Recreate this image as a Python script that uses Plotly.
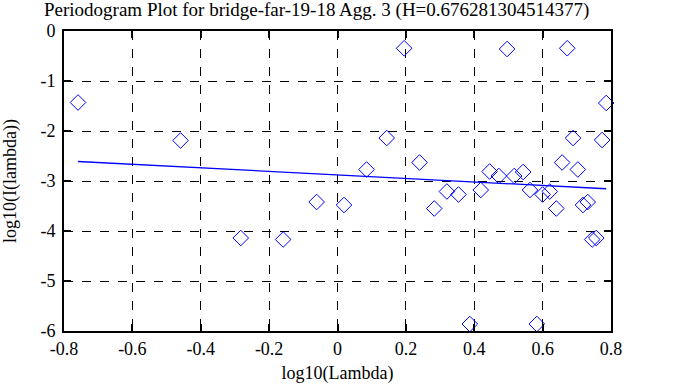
import plotly.graph_objects as go

# Periodogram points (log10 lambda, log10 I(lambda))
log_lambda = [-0.759, -0.459, -0.283, -0.159, -0.061, 0.019, 0.085, 0.144, 0.195, 0.240,
              0.283, 0.320, 0.354, 0.387, 0.419, 0.445, 0.472, 0.496, 0.517, 0.543,
              0.563, 0.583, 0.600, 0.621, 0.640, 0.657, 0.672, 0.689, 0.703, 0.718,
              0.732, 0.745, 0.757, 0.774, 0.786]
log_I = [-1.43, -2.19, -4.14, -4.17, -3.42, -3.48, -2.77, -2.14, -0.345, -2.63,
         -3.55, -3.21, -3.27, -5.86, -3.18, -2.81, -2.90, -0.36, -2.90, -2.82,
         -3.18, -5.86, -3.27, -3.21, -3.55, -2.63, -0.345, -2.14, -2.77, -3.48,
         -3.42, -4.17, -4.14, -2.18, -1.44]

# Fitted regression line endpoints
fit_x = [-0.759, 0.786]
fit_y = [-2.61, -3.155]

x_ticks = [-0.8, -0.6, -0.4, -0.2, 0, 0.2, 0.4, 0.6, 0.8]
x_tick_labels = ["-0.8", "-0.6", "-0.4", "-0.2", "0", "0.2", "0.4", "0.6", "0.8"]
y_ticks = [0, -1, -2, -3, -4, -5, -6]
y_tick_labels = ["0", "-1", "-2", "-3", "-4", "-5", "-6"]

title_text = "Periodogram Plot for bridge-far-19-18 Agg. 3 (H=0.676281304514377)"

font_family = "Liberation Serif, Times New Roman, serif"

fig = go.Figure()
fig.add_trace(go.Scatter(
    x=log_lambda, y=log_I, mode="markers",
    marker=dict(symbol="diamond-open", size=12, color="#0000ff", line=dict(width=1, color="#0000ff")),
    showlegend=False, cliponaxis=False,
))
fig.add_trace(go.Scatter(
    x=fit_x, y=fit_y, mode="lines",
    line=dict(color="#0000ff", width=1.3),
    showlegend=False,
))

axis_common = dict(
    showline=True, linecolor="black", linewidth=2, mirror="allticks",
    ticks="inside", ticklen=7, tickwidth=2, tickcolor="black",
    showgrid=True, gridcolor="black", gridwidth=1, griddash="dash",
    zeroline=False, automargin=False,
    tickfont=dict(family=font_family, size=18, color="black"),
)

fig.update_layout(
    width=674, height=387,
    margin=dict(l=64, r=63, t=31, b=56),
    paper_bgcolor="white", plot_bgcolor="white",
    font=dict(family=font_family, color="black"),
    xaxis=dict(range=[-0.8, 0.8], tickvals=x_ticks, ticktext=x_tick_labels,
               title=dict(text="log10(Lambda)", font=dict(family=font_family, size=18), standoff=9),
               **axis_common),
    yaxis=dict(range=[-6, 0], tickvals=y_ticks, ticktext=y_tick_labels,
               ticklabelstandoff=3,
               title=dict(text="log10(I(lambda))", font=dict(family=font_family, size=18), standoff=20),
               **axis_common),
    annotations=[dict(
        text=title_text, xref="paper", yref="paper", x=311/674, y=1,
        xanchor="center", yanchor="bottom", yshift=8, showarrow=False,
        font=dict(family=font_family, size=19, color="black"),
    )],
)

fig.write_html("out.html", config={"displayModeBar": False},
               post_script="document.body.style.margin='0';document.body.style.padding='0';")
